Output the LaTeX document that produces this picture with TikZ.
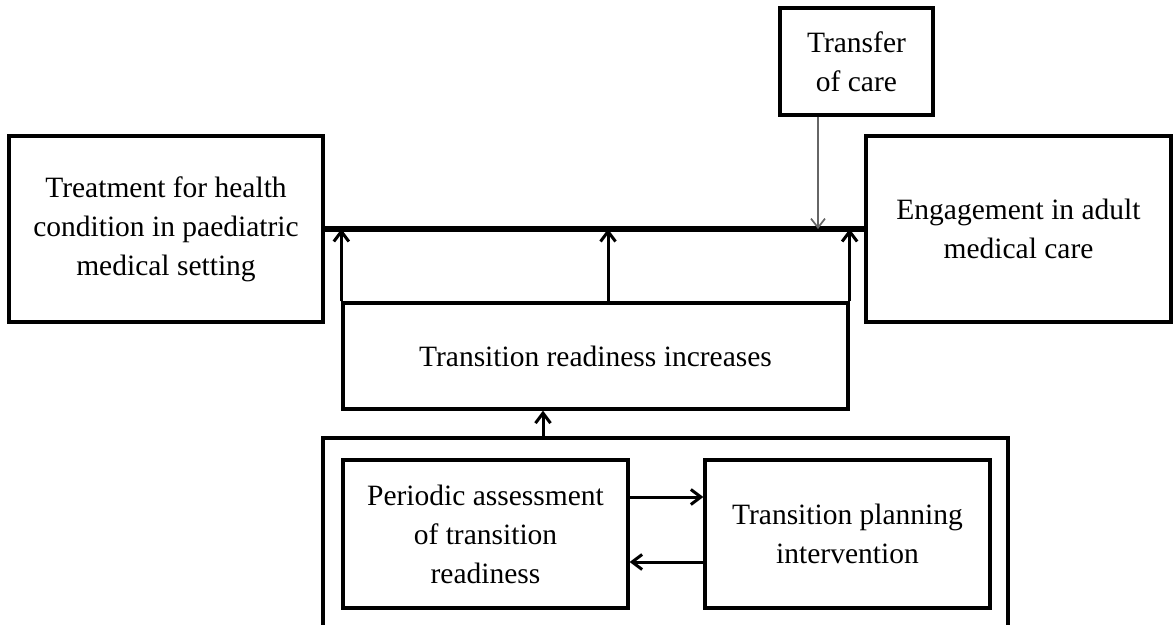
\documentclass[tikz,border=0pt]{standalone}
\usepackage{fontspec}
\setmainfont{Liberation Serif}
\usetikzlibrary{arrows.meta}
\begin{document}
\begin{tikzpicture}[x=1pt,y=-1pt,
  box/.style={draw, line width=3.3pt, align=center, inner sep=0pt,
    font=\fontsize{29.5}{39}\selectfont},
  link/.style={line width=3pt, -{Straight Barb[length=10pt,width=15pt,line width=3pt]}},
  thinlink/.style={line width=1.5pt, draw=black!60, -{Straight Barb[length=9pt,width=14pt,line width=1.7pt]}}]
\useasboundingbox (0,0) rectangle (1173,624);

% main boxes
\node[box, minimum width=314pt, minimum height=186pt] (ped) at (166,229)
  {\raisebox{-4pt}{\begin{tabular}{@{}c@{}}Treatment for health\\condition in paediatric\\medical setting\end{tabular}}};
\node[box, minimum width=305pt, minimum height=186pt] (adult) at (1018.5,229)
  {Engagement in adult\\medical care};
\node[box, minimum width=153pt, minimum height=107pt] (transfer) at (856.5,61.5)
  {Transfer\\of care};
\node[box, minimum width=505pt, minimum height=106pt] (ready) at (595.5,356)
  {Transition readiness increases};

% inner process boxes
\node[box, minimum width=285pt, minimum height=148pt] (assess) at (485.5,534)
  {Periodic assessment\\of transition\\readiness};
\node[box, minimum width=285pt, minimum height=148pt] (plan) at (847.5,534)
  {Transition planning\\intervention};

% enclosing frame, open at the bottom edge of the page
\coordinate (gl) at (323,640);
\coordinate (gr) at (1008,640);
\coordinate (gtop) at (543,438);
\draw[line width=3.3pt] (gl) |- (gtop -| gr) -- (gr);

% pathway line
\draw[line width=5.5pt] (ped.east) -- (adult.west);

% transfer of care
\coordinate (tx) at (818,229);
\draw[thinlink] (transfer.south -| tx) -- (tx);

% readiness feeds the pathway
\coordinate (mx) at (608,229);
\draw[link] (ready.north west) -- (ready.north west |- ped.east);
\draw[link] (ready.north -| mx) -- (mx);
\draw[link] (ready.north east) -- (ready.north east |- ped.east);

% frame feeds readiness
\draw[link] (gtop) -- (ready.south -| gtop);

% assessment / planning loop
\draw[link] ([yshift=37pt]assess.east) -- ([yshift=37pt]assess.east -| plan.west);
\draw[link] ([yshift=-28pt]plan.west) -- ([yshift=-28pt]plan.west -| assess.east);
\end{tikzpicture}
\end{document}
